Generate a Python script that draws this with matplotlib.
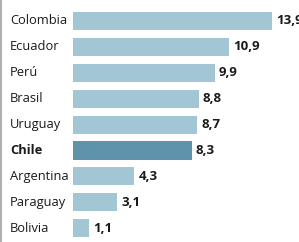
import matplotlib
matplotlib.use("Agg")
import matplotlib.pyplot as plt

countries = ["Colombia", "Ecuador", "Perú", "Brasil", "Uruguay", "Chile", "Argentina", "Paraguay", "Bolivia"]
values = [13.9, 10.9, 9.9, 8.8, 8.7, 8.3, 4.3, 3.1, 1.1]
value_labels = ["13,9", "10,9", "9,9", "8,8", "8,7", "8,3", "4,3", "3,1", "1,1"]
highlight = "Chile"

W, H = 299, 242
fig = plt.figure(figsize=(W / 100, H / 100), dpi=100)
fig.patch.set_facecolor("white")
x0 = 73
ax = fig.add_axes([x0 / W, 0, (W - x0) / W, 1])
ax.set_xlim(0, (W - x0) / 14.3)
row = 25.9
ax.set_ylim((H - 21) / row, -21 / row)
ax.axis("off")

light = "#a3c6d4"
dark = "#5f93ab"
font = "Open Sans"
for i, (c, v, lab) in enumerate(zip(countries, values, value_labels)):
    col = dark if c == highlight else light
    ax.barh(i, v, height=0.7, color=col, edgecolor="none")
    ax.text(v + 0.28, i, lab, va="center", ha="left", fontsize=9.5, fontweight="bold",
            color="#1a1a1a", family=font)
    fig.text(10 / W, 1 - (21 + row * i) / H, c, va="center", ha="left", fontsize=9.3,
             fontweight="bold" if c == highlight else "normal", color="#1a1a1a", family=font)

fig.add_artist(plt.Line2D([1 / W, 1 / W], [0, 1], color="#b0b0b0", lw=1.5))
fig.savefig("out.png", dpi=100)
